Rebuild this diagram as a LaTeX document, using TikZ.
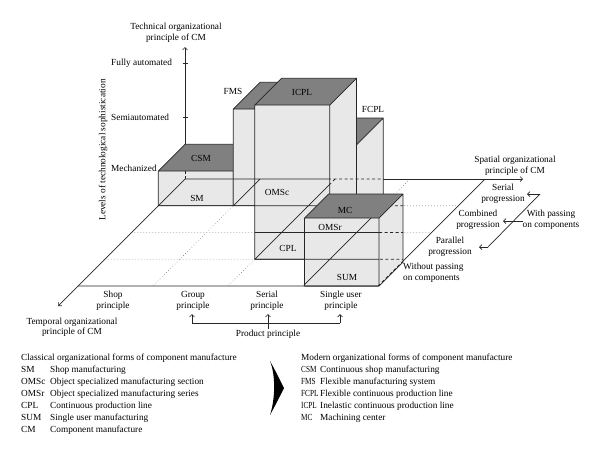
\documentclass[tikz,border=0pt]{standalone}
\usepackage{fontspec}
\setmainfont{Liberation Serif}
\usetikzlibrary{arrows.meta}
\tikzset{
  ln/.style={line width=0.7pt, draw=black!85},
  dotln/.style={line width=0.6pt, draw=black!55, dash pattern=on 0.6pt off 2.4pt},
  dashln/.style={dash pattern=on 3pt off 2.5pt},
  facec/.style={fill=black!9},
  topc/.style={fill=black!50},
  arr/.style={-{Straight Barb[length=2.5pt,width=5pt]}},
  lab/.style={inner sep=0pt, align=center},
}
\newcommand{\flines}[1]{%
 \draw[#1] (185,179)--(485,179) (158.25,205.75)--(458.25,205.75)
   (131.5,232.5)--(431.5,232.5) (104.75,259.25)--(404.75,259.25)
   (78,286)--(378,286) (185,179)--(78,286) (260,179)--(153,286)
   (335,179)--(228,286) (410,179)--(303,286) (485,179)--(378,286);}
\newcommand{\cube}[5]{%
  \fill[facec] (#1,#3) rectangle (#2,#4);
  \fill[facec] (#2,#3) -- ++(#5,-#5) -- ++(0,#4-#3) -- (#2,#4) -- cycle;
  \fill[topc] (#1,#3) -- ++(#5,-#5) -- ++(#2-#1,0) -- (#2,#3) -- cycle;
  \begin{scope}\clip (#1,#3) rectangle (#2,#4); \flines{ln}\end{scope}
  \begin{scope}\clip (#2,#3) -- ++(#5,-#5) -- ++(0,#4-#3) -- (#2,#4) -- cycle; \flines{ln,dashln}\end{scope}
  \draw[ln,line join=round] (#1,#3) rectangle (#2,#4)
     (#1,#3) -- ++(#5,-#5) -- ++(#2-#1,0) -- ++(0,#4-#3) -- (#2,#4)
     (#2,#3) -- ++(#5,-#5);}
\newcommand{\nabbr}[1]{\scalebox{0.78}[1]{#1}}
\begin{document}
\begin{tikzpicture}[x=1pt,y=-1pt,
  every node/.style={inner sep=0pt, font=\fontsize{9.3}{10.5}\selectfont}]
\useasboundingbox (0,0) rectangle (600,456);
% floor: dotted grid
\draw[dotln] (158.25,205.75)--(458.25,205.75) (131.5,232.5)--(431.5,232.5)
   (104.75,259.25)--(404.75,259.25) (260,179)--(153,286)
   (335,179)--(228,286) (410,179)--(303,286);
\draw[ln] (78,286)--(378,286)--(485,179);
% axes
\coordinate (O) at (185,179);
\coordinate (tecTip) at (185,47);
\coordinate (spaTip) at (523,179);
\coordinate (temTip) at (58,306);
\draw[ln,arr] (O) -- (tecTip);
\draw[ln,arr] (O) -- (spaTip);
\draw[ln,arr] (O) -- (temTip);
\draw[ln] (182.5,63) -- (187.5,63) (182.5,117) -- (187.5,117);
% boxes
\cube{158.25}{233.25}{171}{205.75}{26.75}
\begin{scope}\clip (158.25,171) rectangle (233.25,205.75);
  \draw[ln,dashln] (185,179) -- (185,144);\end{scope}
\cube{233.25}{308.25}{109}{205.75}{26.75}
\cube{281.5}{356.5}{144.75}{232.5}{26.75}
\cube{254.75}{329.75}{105}{259.25}{26.75}
\cube{304.5}{379}{218}{286}{24}
% box / cell labels
\node (csm) at (201,158) {CSM};
\node (sm) at (197,198) {SM};
\node (fms) at (233,91) {FMS};
\node (icpl) at (302,92) {ICPL};
\node (fcpl) at (373,109) {FCPL};
\node (omsc) at (277,192) {OMSc};
\node (cpl) at (288,248) {CPL};
\node (mc) at (345,210) {MC};
\node (omsr) at (330,227) {OMSr};
\node (sum) at (347,277) {SUM};
% vertical axis labels
\node[lab] (tec) at (176,33) {Technical organizational\\principle of CM};
\node[anchor=west] (fa) at (111,63) {Fully automated};
\node[anchor=west] (sa) at (111,117) {Semiautomated};
\node[anchor=west] (me) at (111,168) {Mechanized};
\node[rotate=90] (lev) at (103,150) {Levels of technological sophistication};
% spatial axis labels
\node[lab] (spa) at (515,166) {Spatial organizational\\principle of CM};
\node[lab] (ser) at (503,194) {Serial\\progression};
\node[lab] (com) at (478,220) {Combined\\progression};
\node[lab] (par) at (450,247) {Parallel\\progression};
\node[lab,align=left,anchor=west] (wo) at (403,273) {Without passing\\on components};
\node[lab] (wp) at (551,220) {With passing\\on components};
\coordinate (b1) at (540,194);
\coordinate (b2) at (488,247);
\draw[ln] (b1) -- (b2);
\draw[ln,arr] (b1) -- (527,194);
\draw[ln,arr] (b2) -- (479,247);
\draw[ln,arr] (wp.west |- 0,221) -- (503,221);
% temporal axis labels
\node[lab] (tem) at (72,327.5) {Temporal organizational\\principle of CM};
\node[lab] (shop) at (113,301) {Shop\\principle};
\node[lab] (grp) at (193,301) {Group\\principle};
\node[lab] (serp) at (267,301) {Serial\\principle};
\node[lab] (sng) at (341,301) {Single user\\principle};
\node (prod) at (268,334) {Product principle};
\draw[ln,arr] (192,323) -- (192,314);
\draw[ln,arr] (340,323) -- (340,314);
\draw[ln] (192,323) -- (340,323);
\draw[ln,arr] (prod.north -| 268,0) ++(0,-1) -- (268,314);
% legend
\node[anchor=base west] (lh) at (21,360) {Classical organizational forms of component manufacture};
\foreach \a/\d [count=\i] in {SM/Shop manufacturing,OMSc/Object specialized manufacturing section,OMSr/Object specialized manufacturing series,CPL/Continuous production line,SUM/Single user manufacturing,CM/Component manufacture}{
  \node[anchor=base west] (la\i) at (21,360+12*\i) {\a};
  \node[anchor=base west] (ld\i) at (50,360+12*\i) {\d};
}
\node[anchor=base west] (rh) at (301,360) {Modern organizational forms of component manufacture};
\foreach \a/\d [count=\i] in {CSM/Continuous shop manufacturing,FMS/Flexible manufacturing system,FCPL/Flexible continuous production line,ICPL/Inelastic continuous production line,MC/Machining center}{
  \node[anchor=base west] (ra\i) at (301,360+12*\i) {\nabbr{\a}};
  \node[anchor=base west] (rd\i) at (320,360+12*\i) {\d};
}
\fill (270,361) .. controls (276,372) .. (284,388) .. controls (276,404) .. (270,415)
   .. controls (275,400) and (276,376) .. cycle;
\end{tikzpicture}
\end{document}
